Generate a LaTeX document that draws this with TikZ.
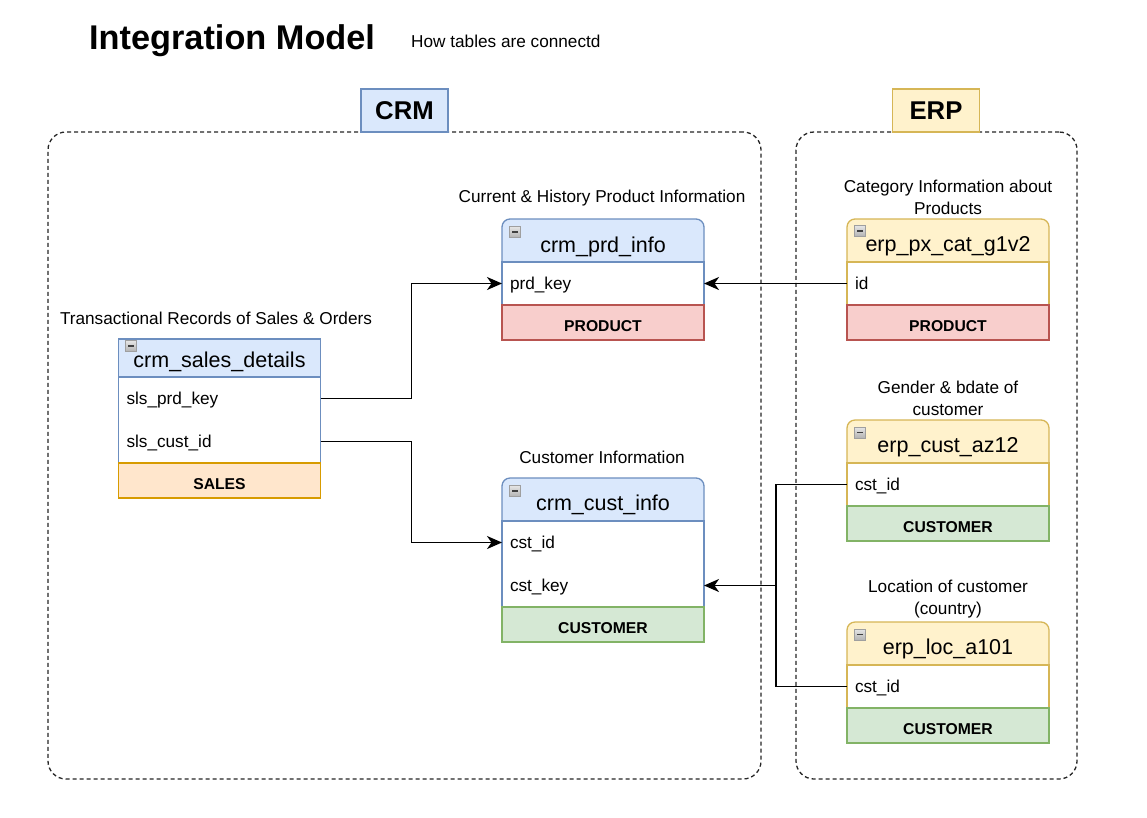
\documentclass[tikz,border=0pt]{standalone}
\usepackage{fontspec}
\setmainfont{Liberation Sans}
\usetikzlibrary{arrows.meta}
\definecolor{bluef}{HTML}{DAE8FC}\definecolor{blued}{HTML}{6C8EBF}
\definecolor{yelf}{HTML}{FFF2CC}\definecolor{yeld}{HTML}{D6B656}
\definecolor{redf}{HTML}{F8CECC}\definecolor{redd}{HTML}{B85450}
\definecolor{grnf}{HTML}{D5E8D4}\definecolor{grnd}{HTML}{82B366}
\definecolor{orgf}{HTML}{FFE6CC}\definecolor{orgd}{HTML}{D79B00}
\tikzset{
  container/.style={draw=black!85, dash pattern=on 4pt off 3pt, line width=1.3pt, rounded corners=18pt, inner sep=0, outer sep=0},
  group/.style={draw, line width=1.3pt, minimum width=87pt, minimum height=43pt, inner sep=0, font=\fontsize{25.7}{30}\selectfont\bfseries},
  hshape/.style={minimum width=202pt, minimum height=59pt, line width=1.3pt, inner sep=0, outer sep=0, anchor=north},
  body/.style={fill=white, minimum width=202pt, line width=1.3pt, inner sep=0, outer sep=0, anchor=north},
  foot/.style={minimum width=202pt, minimum height=35pt, line width=1.3pt, inner sep=0, outer sep=0, anchor=north, text height=17pt, text depth=0pt, font=\fontsize{15.7}{18}\selectfont\bfseries},
  row/.style={minimum height=43pt, text width=186pt, inner xsep=8pt, inner ysep=0, outer sep=0, align=left, anchor=north, text height=13.5pt, text depth=1pt, font=\fontsize{17.2}{20}\selectfont},
  htext/.style={inner sep=0, font=\fontsize{21.5}{24}\selectfont},
  icon/.style={minimum size=11pt, inner sep=0, top color=gray!20, bottom color=gray!60, draw=gray!75, line width=0.7pt,
    path picture={\draw[black!75, line width=1.3pt] ([xshift=-3pt]path picture bounding box.center) -- ([xshift=3pt]path picture bounding box.center);}},
  captxt/.style={inner sep=0, align=center, font=\fontsize{17.2}{22}\selectfont},
  link/.style={draw=black, line width=1.8pt},
  arr/.style={link, -{Stealth[length=15pt, width=13pt, inset=4.5pt]}},
}
\begin{document}
\begin{tikzpicture}[x=1pt,y=-1pt]
\useasboundingbox (0,0) rectangle (1147,817);
\fill[white] (0,0) rectangle (1147,817);

% titles
\node[anchor=west, inner sep=0, font=\fontsize{34.3}{40}\selectfont\bfseries] (title) at (89,41) {Integration Model};
\node[anchor=west, inner sep=0, font=\fontsize{17.2}{20}\selectfont] (subtitle) at (411,41) {How tables are connectd};

% containers
\node[container, minimum width=713pt, minimum height=647pt] (crmbox) at (404.5,455.5) {};
\node[container, minimum width=281pt, minimum height=647pt] (erpbox) at (936.5,455.5) {};
\node[group, fill=bluef, draw=blued] (crmlbl) at (404.5,110.5) {CRM};
\node[group, fill=yelf, draw=yeld] (erplbl) at (936,110.5) {ERP};

% ---- crm_sales_details
\node[captxt] (sales-c) at (216,318) {Transactional Records of Sales \& Orders};
\node[hshape, fill=bluef, draw=blued, sharp corners] (sales-h) at (219.5,339) {};
\node[body, draw=blued, minimum height=86pt] (sales-b) at (219.5,377) {};
\node[foot, fill=orgf, draw=orgd] (sales-f) at (219.5,463) {SALES};
\node[row] (sls-prd) at (219.5,377) {sls\_prd\_key};
\node[row] (sls-cust) at (219.5,420) {sls\_cust\_id};
\node[htext] (sales-t) at (219.5,362) {crm\_sales\_details};
\node[icon] (sales-i) at (131,346) {};

% ---- crm_prd_info
\node[captxt] (prd-c) at (602,198) {Current \& History Product Information};
\node[hshape, fill=bluef, draw=blued, rounded corners=8pt] (prd-h) at (603,219) {};
\node[body, draw=blued, minimum height=43pt] (prd-b) at (603,262) {};
\node[foot, fill=redf, draw=redd] (prd-f) at (603,305) {PRODUCT};
\node[row] (prd-key) at (603,262) {prd\_key};
\node[htext] (prd-t) at (603,247) {crm\_prd\_info};
\node[icon] (prd-i) at (515,232) {};

% ---- crm_cust_info
\node[captxt] (cust-c) at (602,457) {Customer Information};
\node[hshape, fill=bluef, draw=blued, rounded corners=8pt] (cust-h) at (603,478) {};
\node[body, draw=blued, minimum height=86pt] (cust-b) at (603,521) {};
\node[foot, fill=grnf, draw=grnd] (cust-f) at (603,607) {CUSTOMER};
\node[row] (cust-id) at (603,521) {cst\_id};
\node[row] (cust-key) at (603,564) {cst\_key};
\node[htext] (cust-t) at (603,505) {crm\_cust\_info};
\node[icon] (cust-i) at (515,491) {};

% ---- erp_px_cat_g1v2
\node[captxt] (px-c) at (948,197.5) {Category Information about\\Products};
\node[hshape, fill=yelf, draw=yeld, rounded corners=8pt] (px-h) at (948,219) {};
\node[body, draw=yeld, minimum height=43pt] (px-b) at (948,262) {};
\node[foot, fill=redf, draw=redd] (px-f) at (948,305) {PRODUCT};
\node[row] (px-id) at (948,262) {id};
\node[htext] (px-t) at (948,246.5) {erp\_px\_cat\_g1v2};
\node[icon] (px-i) at (860,231) {};

% ---- erp_cust_az12
\node[captxt] (az-c) at (948,398.5) {Gender \& bdate of\\customer};
\node[hshape, fill=yelf, draw=yeld, rounded corners=8pt] (az-h) at (948,420) {};
\node[body, draw=yeld, minimum height=43pt] (az-b) at (948,463) {};
\node[foot, fill=grnf, draw=grnd] (az-f) at (948,506) {CUSTOMER};
\node[row] (az-id) at (948,463) {cst\_id};
\node[htext] (az-t) at (948,447) {erp\_cust\_az12};
\node[icon] (az-i) at (860,432.5) {};

% ---- erp_loc_a101
\node[captxt] (loc-c) at (948,599.5) {Location of customer\\(country)};
\node[hshape, fill=yelf, draw=yeld, rounded corners=8pt] (loc-h) at (948,622) {};
\node[body, draw=yeld, minimum height=43pt] (loc-b) at (948,665) {};
\node[foot, fill=grnf, draw=grnd] (loc-f) at (948,708) {CUSTOMER};
\node[row] (loc-id) at (948,665) {cst\_id};
\node[htext] (loc-t) at (948,649) {erp\_loc\_a101};
\node[icon] (loc-i) at (860,634.5) {};

% connectors
\draw[arr] (sls-prd.east) -- ++(91,0) |- (prd-key.west);
\draw[arr] (sls-cust.east) -- ++(91,0) |- (cust-id.west);
\draw[arr] (px-id.west) -- (prd-key.east);
\coordinate (jn) at (776,585.5);
\draw[arr] (az-id.west) -| (jn) -- (cust-key.east);
\draw[link] (loc-id.west) -| (jn);
\end{tikzpicture}
\end{document}
